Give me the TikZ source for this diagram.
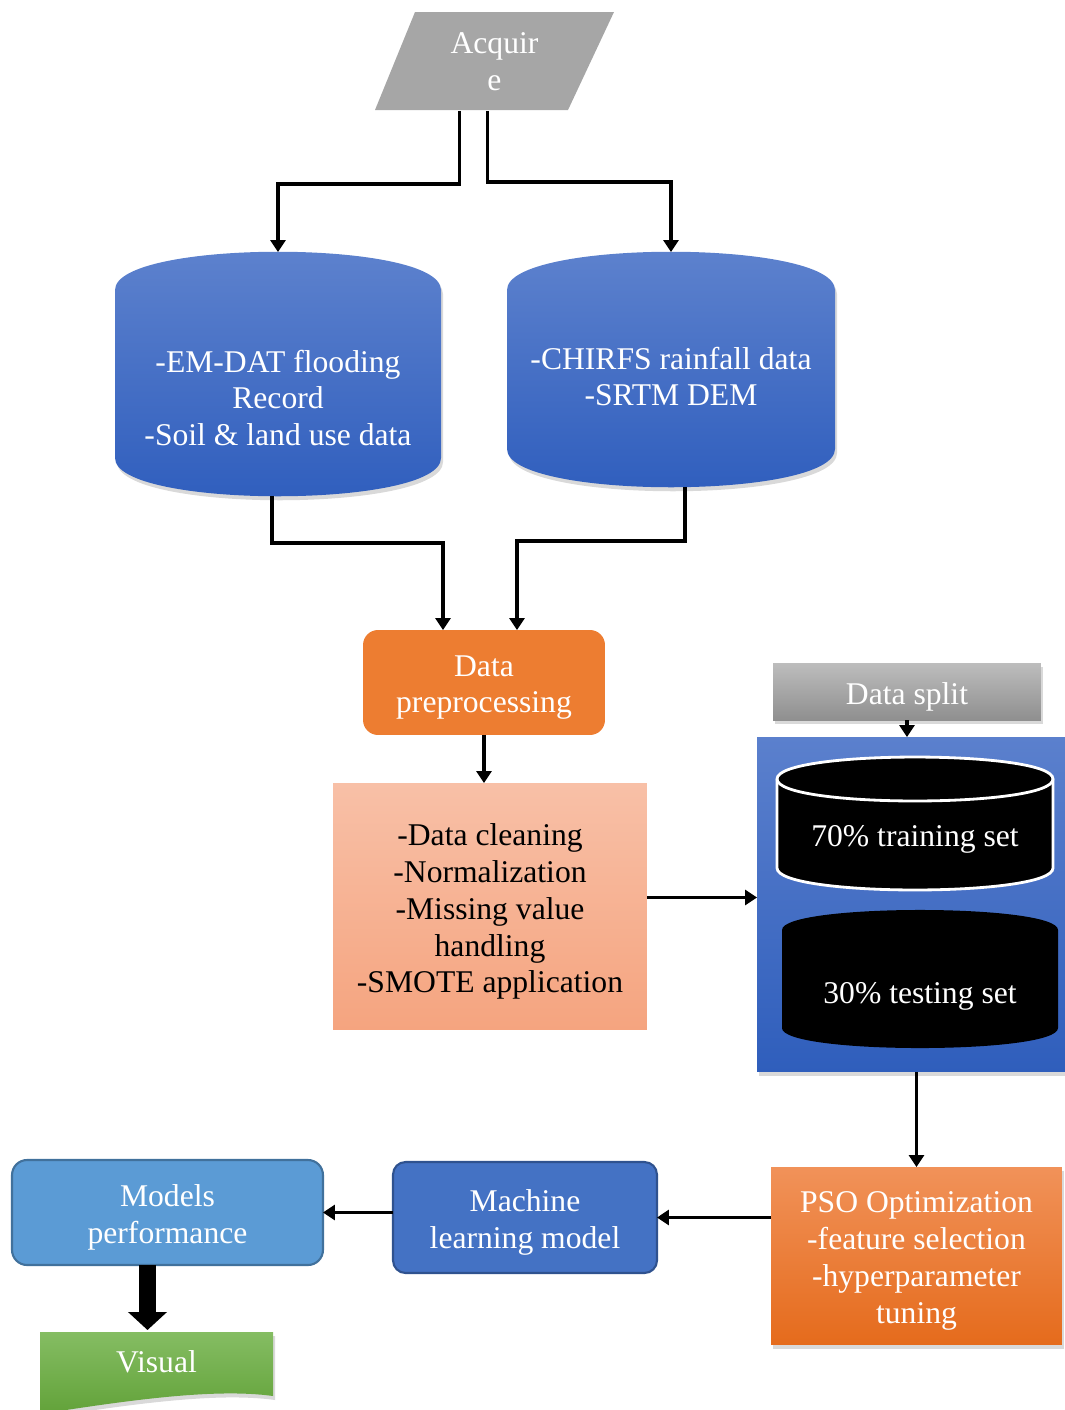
\documentclass[tikz,border=0pt]{standalone}
\usepackage{fontspec}
\setmainfont{Liberation Serif}
\usetikzlibrary{calc,arrows.meta,shadows}
\definecolor{acqgray}{HTML}{A6A6A6}
\definecolor{drumtop}{HTML}{5F83CE}
\definecolor{drumbot}{HTML}{2E5DBD}
\definecolor{prepor}{HTML}{ED7D31}
\definecolor{cleantop}{HTML}{F8C0A7}
\definecolor{cleanbot}{HTML}{F5A47F}
\definecolor{splittop}{HTML}{BDBDBD}
\definecolor{splitbot}{HTML}{8F8F8F}
\definecolor{setstop}{HTML}{5B80CD}
\definecolor{setsbot}{HTML}{2F5EBC}
\definecolor{psotop}{HTML}{F19259}
\definecolor{psobot}{HTML}{E56B1C}
\definecolor{mlblue}{HTML}{4472C4}
\definecolor{mlline}{HTML}{2F528F}
\definecolor{perfblue}{HTML}{5B9BD5}
\definecolor{perfline}{HTML}{41719C}
\definecolor{vistop}{HTML}{85BD63}
\definecolor{visbot}{HTML}{62A239}
\tikzset{
  flow/.style={draw=black, line width=1.8pt, -{Triangle[length=0.24cm,width=0.3cm]}},
  fatarrow/.style={draw=black, line width=0.34cm, -{Triangle[length=0.36cm,width=0.76cm]}},
  wtxt/.style={text=white, align=center, inner sep=0pt},
  ktxt/.style={text=black, align=center, inner sep=0pt},
  wlbl/.style={wtxt, yshift=-0.1cm},
  klbl/.style={ktxt, yshift=-0.1cm},
  slot/.style={inner sep=0pt, outer sep=0pt},
  softshadow/.style={drop shadow={shadow xshift=0.04cm, shadow yshift=-0.08cm, opacity=0.3}},
  drum/.style={top color=drumtop, bottom color=drumbot, softshadow},
}

\begin{document}
\begin{tikzpicture}[x=0.02cm, y=-0.02cm, font=\fontsize{18}{21}\selectfont]
		\useasboundingbox (0,0) rectangle (1065,1410);
		
		%%%%% acquire %%%%%
		\path[fill=acqgray] (415,12) -- (614,12) -- (568,110) -- (375,110) -- cycle;
		\node[slot, wtxt, minimum width=4.78cm, minimum height=1.96cm] (acq) at (494.5,62) {Acquir\\e};
		
		%%%%% data stores %%%%%
		\path[drum] (115,290) .. controls +(0,-51) and +(0,-51) .. (441,290) -- (441,458)
			.. controls +(0,51) and +(0,51) .. (115,458) -- cycle;
		\node[slot, minimum width=6.52cm, minimum height=4.88cm,
			label={[wtxt,yshift=-0.48cm]center:{-EM-DAT flooding\\Record\\-Soil \& land use data}}] (emdat) at (278,374) {};
		
		\path[drum] (507,290) .. controls +(0,-51) and +(0,-51) .. (835,290) -- (835,449)
			.. controls +(0,51) and +(0,51) .. (507,449) -- cycle;
		\node[slot, minimum width=6.56cm, minimum height=4.7cm,
			label={[wtxt,yshift=-0.14cm]center:{-CHIRFS rainfall data\\-SRTM DEM}}] (chirps) at (671,369.5) {};
		
		\draw[flow] ($(acq.south)+(-35,0)$) -- ++(0,73) -| (emdat.north);
		\draw[flow] ($(acq.south)+(-7,0)$) -- ++(0,71) -| (chirps.north);
		
		%%%%% preprocessing %%%%%
		\node[slot, fill=prepor, rounded corners=0.3cm, minimum width=4.84cm, minimum height=2.1cm,
			label={[wlbl]center:{Data\\preprocessing}}] (prep) at (484,682.5) {};
		\draw[flow] ($(emdat.south)+(-6,0)$) -- ++(0,47) -| ($(prep.north)+(-41,0)$);
		\draw[flow] ($(chirps.south)+(14,0)$) -- ++(0,54) -| ($(prep.north)+(33,0)$);
		
		\node[slot, top color=cleantop, bottom color=cleanbot, minimum width=6.28cm, minimum height=4.94cm,
			label={[klbl]center:{-Data cleaning\\-Normalization\\-Missing value\\handling\\-SMOTE application}}] (clean) at (490,906.5) {};
		\draw[flow] (prep.south) -- (prep.south |- clean.north);
		
		%%%%% split %%%%%
		\node[slot, top color=splittop, bottom color=splitbot, softshadow, minimum width=5.36cm, minimum height=1.14cm,
			label={[wlbl]center:Data split}] (split) at (907,691.5) {};
		\node[slot, top color=setstop, bottom color=setsbot, softshadow, minimum width=6.26cm, minimum height=6.7cm] (sets) at (913.5,904.5) {};
		\draw[flow] (split.south) -- (split.south |- sets.north);
		
		\path[draw=white, line width=1.6pt, fill=black] (777,779) .. controls +(0,-29.3) and +(0,-29.3) .. (1053,779) -- (1053,868)
			.. controls +(0,29.3) and +(0,29.3) .. (777,868) -- cycle;
		\draw[white, line width=1.6pt] (777,779) .. controls +(0,29.3) and +(0,29.3) .. (1053,779);
		\node[wtxt] (train) at (915,839) {70\% training set};
		
		\path[fill=black] (782,930) .. controls +(0,-26.7) and +(0,-26.7) .. (1058,930) -- (1058,1028)
			.. controls +(0,26.7) and +(0,26.7) .. (782,1028) -- cycle;
		\node[wtxt] (test) at (920,996) {30\% testing set};
		
		\coordinate (c1) at ($(clean.east)+(0,-9)$);
		\draw[flow] (c1) -- (c1 -| sets.west);
		
		%%%%% models %%%%%
		\node[slot, top color=psotop, bottom color=psobot, softshadow, minimum width=5.82cm, minimum height=3.56cm,
			label={[wlbl]center:{PSO Optimization\\-feature selection\\-hyperparameter\\tuning}}] (pso) at (916.5,1256) {};
		\draw[flow] (pso.north |- sets.south) -- (pso.north);
		
		\node[slot, fill=mlblue, draw=mlline, line width=1.2pt, rounded corners=0.25cm, minimum width=5.28cm, minimum height=2.22cm,
			label={[wlbl]center:{Machine\\learning model}}] (ml) at (525,1217.5) {};
		\draw[flow] (ml.east -| pso.west) -- (ml.east);
		
		\node[slot, fill=perfblue, draw=perfline, line width=1.2pt, rounded corners=0.3cm, minimum width=6.22cm, minimum height=2.1cm,
			label={[wlbl]center:{Models\\performance}}] (perf) at (167.5,1212.5) {};
		\draw[flow] (perf.east -| ml.west) -- (perf.east);
		
		\path[top color=vistop, bottom color=visbot, softshadow] (40,1332) -- (273,1332) -- (273,1396)
			.. controls (215,1388) and (130,1400) .. (40,1414) -- cycle;
		\node[slot, wtxt, minimum width=4.66cm, minimum height=1.28cm] (visual) at (156.5,1362) {Visual};
		
		\coordinate (v0) at ($(perf.south)+(-20,0)$);
		\draw[fatarrow] (v0) -- (v0 |- visual.north);
	\end{tikzpicture}
\end{document}
